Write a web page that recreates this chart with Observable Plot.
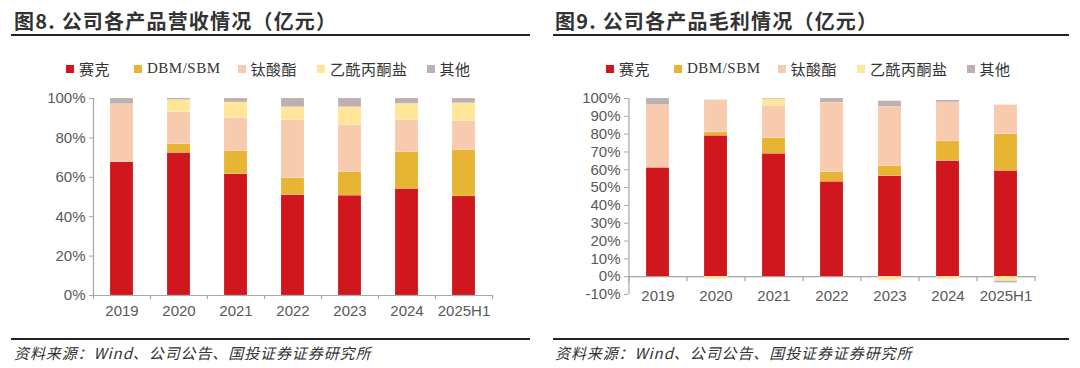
<!DOCTYPE html>
<html><head><meta charset="utf-8">
<script src="https://cdn.jsdelivr.net/npm/d3@7"></script>
<script src="https://cdn.jsdelivr.net/npm/@observablehq/plot@0.6"></script>
<style>
html,body{margin:0;padding:0;background:#fff;}
body{width:1080px;height:368px;position:relative;overflow:hidden;font-family:"Noto Sans CJK SC","Liberation Sans",sans-serif;}
.panel{position:absolute;top:0;width:540px;height:368px;}
.title{position:absolute;top:6px;font-size:20px;font-weight:bold;color:#333;white-space:nowrap;letter-spacing:1.2px;}
.hline{position:absolute;height:2px;background:#222;}
.legend{position:absolute;top:58px;display:flex;font-size:15px;color:#333;white-space:nowrap;}
.legend .it{display:flex;align-items:center;}
.legend .sw{width:8px;height:8px;margin-right:5px;}
.legend .lb{font-family:"Liberation Serif","Noto Sans CJK SC",serif;letter-spacing:0.5px;}
.src{position:absolute;top:342px;font-size:15px;color:#333;font-style:italic;white-space:nowrap;letter-spacing:0.9px;}
.chart{position:absolute;top:85px;left:0;}
</style></head>
<body>
<div id="p1" class="panel" style="left:0">
  <div class="title" style="left:14px">图8. 公司各产品营收情况（亿元）</div>
  <div class="hline" style="left:11px;width:519px;top:34px"></div>
  <div class="legend" style="left:66px"></div>
  <div class="chart"></div>
  <div class="hline" style="left:11px;width:519px;top:338px"></div>
  <div class="src" style="left:14px">资料来源：Wind、公司公告、国投证券证券研究所</div>
</div>
<div id="p2" class="panel" style="left:540px">
  <div class="title" style="left:15px">图9. 公司各产品毛利情况（亿元）</div>
  <div class="hline" style="left:13px;width:516px;top:34px"></div>
  <div class="legend" style="left:66px"></div>
  <div class="chart"></div>
  <div class="hline" style="left:13px;width:516px;top:338px"></div>
  <div class="src" style="left:15px">资料来源：Wind、公司公告、国投证券证券研究所</div>
</div>
<script>
const years = ["2019","2020","2021","2022","2023","2024","2025H1"];
const products = ["赛克","DBM/SBM","钛酸酯","乙酰丙酮盐","其他"];
const colors = ["#D0171E","#E8B433","#F8CAAE","#FFE699","#BCB0B0"];

// 营收占比 (%)
const revSaike   = [67.6, 72.4, 61.5, 51.0, 50.7, 54.1, 50.3];
const revDBM     = [0.0, 4.4, 11.7, 8.5, 12.0, 18.6, 23.6];
const revTitan   = [29.5, 16.3, 16.8, 29.5, 23.7, 16.3, 14.7];
const revAcac    = [0.0, 6.1, 8.0, 6.6, 9.2, 8.3, 9.0];
const revOther   = [2.9, 0.8, 2.0, 4.4, 4.4, 2.7, 2.4];

// 毛利占比 (%)
const gpSaike    = [61.1, 79.1, 69.0, 53.3, 56.4, 64.9, 59.4];
const gpDBM      = [0.0, 2.0, 8.8, 5.4, 5.5, 11.0, 20.6];
const gpTitan    = [35.2, 17.8, 18.1, 38.9, 33.4, 21.9, 16.3];
const gpAcac     = [0.0, -1.5, 3.7, 0.0, -2.0, -1.5, -2.5];
const gpOther    = [3.7, 0.2, 0.4, 2.4, 3.2, 1.1, -1.0];

const revTicks = [0,20,40,60,80,100];
const gpTicks = [-10,0,10,20,30,40,50,60,70,80,90,100];

function toRows(series){
  const rows=[];
  series.forEach((vals,si)=>vals.forEach((v,i)=>rows.push({year:years[i],product:products[si],value:v})));
  return rows;
}

function legend(el){
  products.forEach((p,i)=>{
    const it=document.createElement("div");it.className="it";
    it.style.marginRight = ["24px","17px","20px","19px","0"][i];
    it.innerHTML=`<span class="sw" style="background:${colors[i]}"></span><span class="lb">${p}</span>`;
    el.appendChild(it);
  });
}

function chart(el, rows, ticks, domain, m, tickLen, labelPad){
  const W=540,H=245;
  const step=(W-m.left-m.right)/years.length;
  const px=(H-m.top-m.bottom)/(domain[1]-domain[0]);
  const tickData = tickLen/px;
  const svg = Plot.plot({
    width:W,height:H,
    marginLeft:m.left,marginRight:m.right,marginTop:m.top,marginBottom:m.bottom,
    style:{fontFamily:"'Liberation Sans',Arial,sans-serif",fontSize:"15px",color:"#595959",background:"transparent"},
    x:{domain:years,paddingInner:0.6,paddingOuter:0.3},
    y:{domain:domain,ticks:ticks},
    color:{domain:products,range:colors},
    marks:[
      Plot.ruleY([0],{stroke:"#A6A6A6",strokeWidth:1.2}),
      Plot.barY(rows,{x:"year",y:"value",fill:"product",order:products,stroke:"#fff",strokeWidth:0.3,strokeOpacity:0.5}),
      Plot.ruleX(years,{x:d=>d,y1:0,y2:-tickData,dx:-step/2,stroke:"#A6A6A6",strokeWidth:1.2}),
      Plot.ruleX([years[years.length-1]],{x:d=>d,y1:0,y2:-tickData,dx:step/2,stroke:"#A6A6A6",strokeWidth:1.2}),
      Plot.axisY({ticks:ticks,tickFormat:d=>d+"%",tickSize:4,tickPadding:4,stroke:"#A6A6A6",fill:"#595959",fontSize:15,label:null}),
      Plot.ruleX([years[0]],{x:d=>d,dx:-step/2,y1:domain[0],y2:domain[1],stroke:"#A6A6A6",strokeWidth:1.2}),
      Plot.axisX({tickSize:0,tickPadding:labelPad,fill:"#595959",fontSize:15,label:null})
    ]
  });
  el.appendChild(svg);
}

legend(document.querySelector("#p1 .legend"));
legend(document.querySelector("#p2 .legend"));
chart(document.querySelector("#p1 .chart"), toRows([revSaike,revDBM,revTitan,revAcac,revOther]), revTicks, [0,100], {left:93,right:48,top:13,bottom:35}, 4, 10);
chart(document.querySelector("#p2 .chart"), toRows([gpSaike,gpDBM,gpTitan,gpAcac,gpOther]), gpTicks, [-10,100], {left:88,right:45,top:13,bottom:36}, 5, -4);
</script>
</body></html>
